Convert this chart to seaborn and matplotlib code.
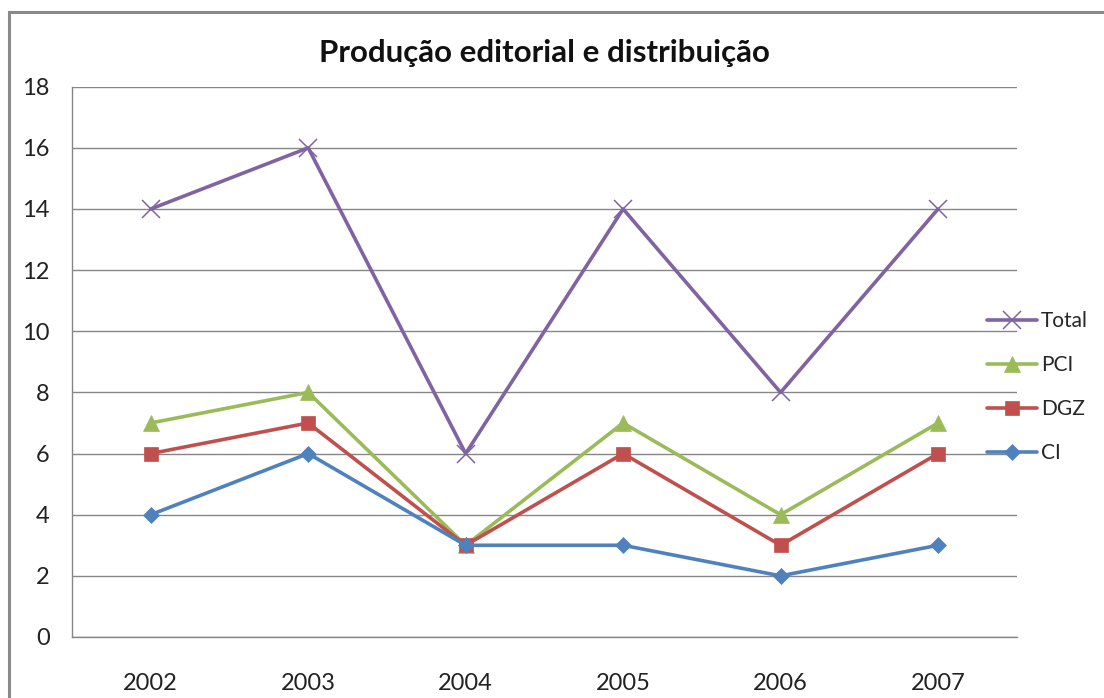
import numpy as np
import pandas as pd
import matplotlib
matplotlib.use('Agg')
import matplotlib.pyplot as plt
from matplotlib.patches import Rectangle
import seaborn as sns

# ── Data ──────────────────────────────────────────────────────────────────────
years = ['2002', '2003', '2004', '2005', '2006', '2007']
total = [14, 16, 6, 14, 8, 14]
pci   = [7, 8, 3, 7, 4, 7]
dgz   = [6, 7, 3, 6, 3, 6]
ci    = [4, 6, 3, 3, 2, 3]

series = [
    ('Total', total, '#8064A2', 'x', 13),
    ('PCI',   pci,   '#9BBB59', '^', 11),
    ('DGZ',   dgz,   '#C0504D', 's', 10),
    ('CI',    ci,    '#4F81BD', 'D', 8),
]

# ── Setup ─────────────────────────────────────────────────────────────────────
sns.set_theme(style='white')
plt.rcParams['font.family'] = ['Lato', 'DejaVu Sans']

fig = plt.figure(figsize=(11.04, 6.98), dpi=100)
ax = fig.add_axes([0.0652, 0.0874, 0.8558, 0.7884])

for name, vals, color, marker, ms in series:
    df = pd.DataFrame({'x': np.arange(len(years)), 'y': vals})
    sns.lineplot(data=df, x='x', y='y', ax=ax, color=color, linewidth=2.6,
                 marker=marker, markersize=ms, markeredgecolor=color,
                 markeredgewidth=1.1 if marker == 'x' else 0.5, label=name,
                 zorder=3)

ax.set_xlim(-0.5, len(years) - 0.5)
ax.set_ylim(0, 18)
ax.set_yticks(range(0, 19, 2))
ax.set_xticks(range(len(years)))
ax.set_xticklabels(years)
ax.set_xticks(np.arange(-0.5, len(years), 1), minor=True)
ax.tick_params(axis='x', which='major', length=0, pad=26, labelsize=17, colors='#222222')
ax.tick_params(axis='x', which='minor', length=7, width=1, color='#868686', direction='out')
ax.tick_params(axis='y', length=7, width=1, color='#868686', direction='out',
               labelsize=17, labelcolor='#222222', pad=9)
ax.yaxis.grid(True, color='#868686', linewidth=1)
ax.set_axisbelow(True)
for s in ['top', 'right']:
    ax.spines[s].set_visible(False)
for s in ['left', 'bottom']:
    ax.spines[s].set_color('#868686')
    ax.spines[s].set_linewidth(1)
ax.set_xlabel('')
ax.set_ylabel('')

ax.set_title('Produção editorial e distribuição', fontsize=22.5, fontweight='bold',
             color='#111111', pad=18)

leg = ax.legend(loc='center left', bbox_to_anchor=(0.955, 0.454), frameon=False,
                fontsize=15, handlelength=2.4, labelspacing=1.15, handletextpad=0.2,
                borderaxespad=0.2)

# outer chart frame
fig.patches.append(Rectangle((9 / 1104, -0.05), 1.1, 1 - 12 / 698 + 0.05,
                             transform=fig.transFigure, fill=False,
                             edgecolor='#8a8a8a', linewidth=2.2))

plt.savefig('out.png', dpi=100)
plt.close()
